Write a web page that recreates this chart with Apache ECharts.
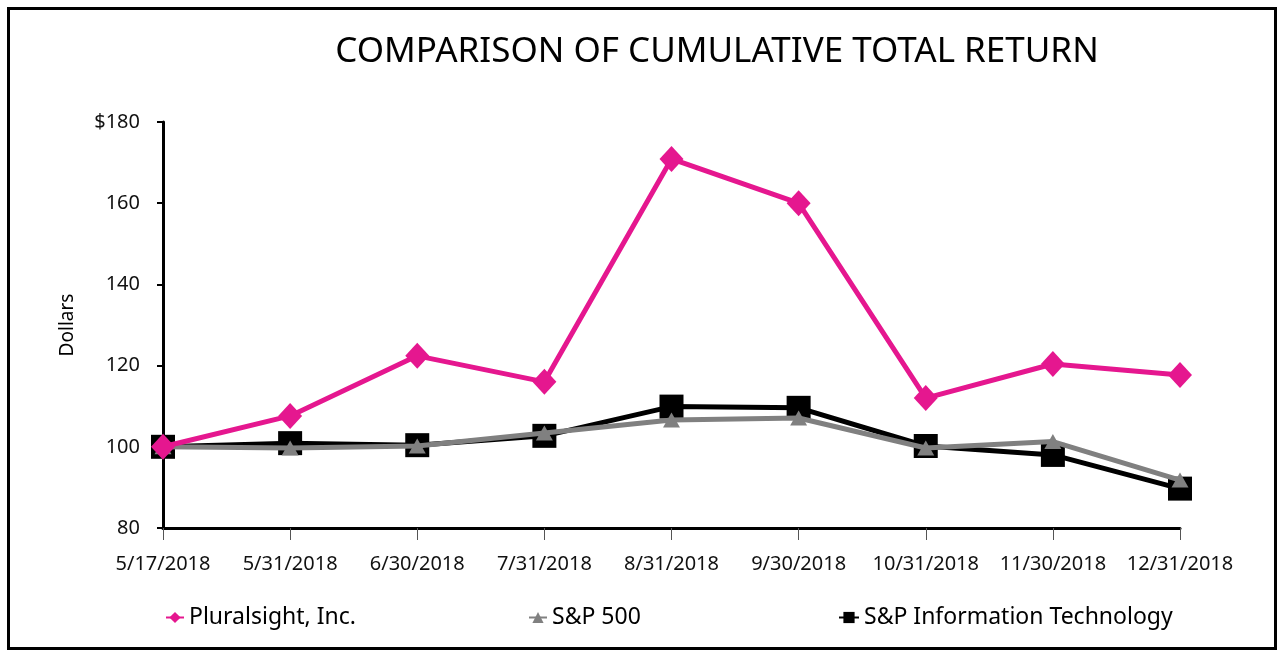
<!DOCTYPE html>
<html>
<head>
<meta charset="utf-8">
<script src="https://cdn.jsdelivr.net/npm/echarts@6/dist/echarts.min.js"></script>
<style>
html,body{margin:0;padding:0;background:#fff;}
#main{width:1280px;height:653px;}
</style>
</head>
<body>
<div id="main"></div>
<script>
// dates on the x axis
var dates = ['5/17/2018','5/31/2018','6/30/2018','7/31/2018','8/31/2018','9/30/2018','10/31/2018','11/30/2018','12/31/2018'];
// values
var pluralsight = [100, 107.6, 122.4, 116.0, 170.9, 160.0, 112.0, 120.4, 117.7];
var sp500 = [100, 99.7, 100.2, 103.4, 106.6, 107.1, 99.7, 101.3, 91.8];
var spIT = [100, 100.9, 100.4, 102.7, 109.9, 109.6, 100.2, 98.0, 89.7];
var yTicks = [80, 100, 120, 140, 160, 180];

var FONT = 'Noto Sans';
var chart = echarts.init(document.getElementById('main'));

var legendText = {fontSize:23, color:'#000', fontFamily:FONT};

var option = {
	backgroundColor:'#ffffff',
	animation:false,
	textStyle:{fontFamily:FONT},
	title:{
		text:'COMPARISON OF CUMULATIVE TOTAL RETURN',
		left:712, top:30, textAlign:'center',
		textStyle:{fontFamily:FONT, fontSize:35, fontWeight:'normal', color:'#000'}
	},
	// three legends so each item sits where the original has it
	legend:[
		{data:['Pluralsight, Inc.'], left:165, top:606, padding:0, itemWidth:18, itemHeight:14, textStyle:legendText},
		{data:['S&P 500'], left:528, top:606, padding:0, itemWidth:18, itemHeight:14, textStyle:legendText},
		{data:['S&P Information Technology'], left:838, top:606, padding:0, itemWidth:20, itemHeight:14, textStyle:legendText}
	],
	grid:{left:163, right:100, top:122, bottom:125, containLabel:false},
	xAxis:{
		type:'category',
		data:dates,
		boundaryGap:false,
		axisLine:{lineStyle:{color:'#000', width:3}},
		axisTick:{show:true, length:12, alignWithLabel:true, lineStyle:{color:'#555', width:1}},
		axisLabel:{fontSize:20, color:'#111', margin:26, interval:0, fontFamily:FONT}
	},
	yAxis:{
		type:'value',
		min:yTicks[0], max:yTicks[yTicks.length-1], interval:20,
		name:'Dollars',
		nameLocation:'middle',
		nameGap:86,
		nameTextStyle:{fontSize:19, color:'#000', fontFamily:FONT},
		axisLine:{show:true, lineStyle:{color:'#000', width:3}},
		axisTick:{show:true, length:6, lineStyle:{color:'#000', width:2}},
		splitLine:{show:false},
		axisLabel:{fontSize:20, color:'#111', margin:23, fontFamily:FONT,
			formatter:function(v){ return v==180 ? '$'+v : ''+v; }}
	},
	series:[
		{
			name:'S&P Information Technology', type:'line', data:spIT, z:2,
			symbol:'rect', symbolSize:24,
			lineStyle:{color:'#000', width:5},
			itemStyle:{color:'#000'}
		},
		{
			name:'S&P 500', type:'line', data:sp500, z:3,
			symbol:'triangle', symbolSize:[17,15],
			lineStyle:{color:'#808080', width:5},
			itemStyle:{color:'#808080'}
		},
		{
			name:'Pluralsight, Inc.', type:'line', data:pluralsight, z:4,
			symbol:'diamond', symbolSize:[24,26],
			lineStyle:{color:'#E5178F', width:5},
			itemStyle:{color:'#E5178F'}
		}
	],
	graphic:[{
		type:'rect', left:6, top:6, z:100,
		shape:{width:1267, height:640},
		style:{fill:null, stroke:'#000', lineWidth:3}
	}]
};

chart.setOption(option);
</script>
</body>
</html>
